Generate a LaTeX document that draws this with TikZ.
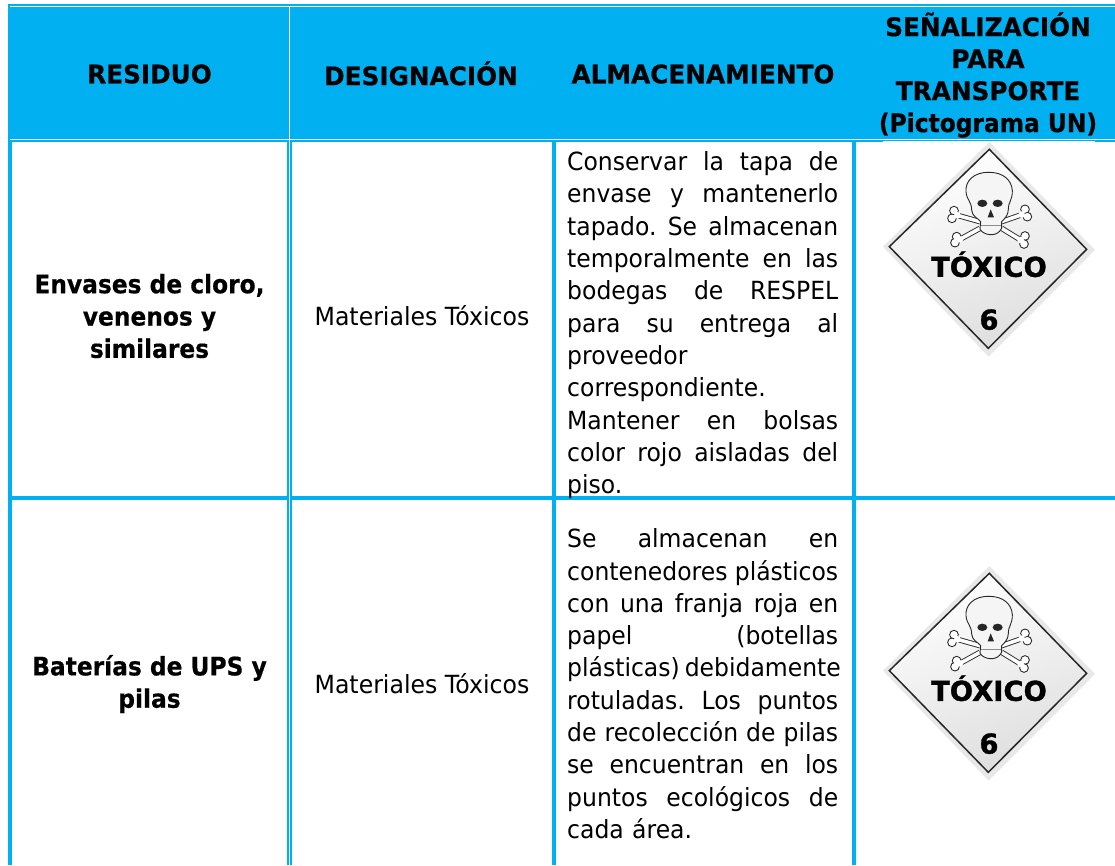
\documentclass[tikz,border=0pt]{standalone}
\usepackage{fontspec}
\setmainfont{DejaVu Sans}
\newfontfamily\bodyf[FakeStretch=0.94]{DejaVu Sans}
\newfontfamily\matf[FakeStretch=0.945]{DejaVu Sans}
\newfontfamily\headf[FakeStretch=0.97,FakeBold=0.5]{DejaVu Sans Bold}
\newfontfamily\labelf[FakeStretch=0.915,FakeBold=0.5]{DejaVu Sans Bold}
\newfontfamily\signf[FakeBold=1.2]{DejaVu Sans Bold}
\definecolor{tblue}{HTML}{00B0F0}
\newcommand\jl[1]{\leavevmode\hbox to 271pt{\spaceskip=.2em plus 1fil\xspaceskip=\spaceskip #1}}
\newcommand\toxico[2]{%
\begin{scope}[shift={(820,#2)},x=0.3333pt,y=-0.3333pt]
\fill[white] (189,62) rectangle (825,70);
\fill[black!9] (508,66) -- (189,380) -- (506,710) -- (825,390) -- cycle;
\shade[top color=white,bottom color=black!13,shading angle=20] (508,88) -- (208,380) -- (505,685) -- (800,388) -- cycle;
\draw[black!85,line width=1.5pt,line join=miter] (508,88) -- (208,380) -- (505,685) -- (800,388) -- cycle;
\foreach \ax/\ay/\bx/\by/\cx/\cy/\dx/\dy in {
 402/272/396/295/480/305/412/286,
 615/268/622/290/545/305/605/284,
 410/350/405/368/480/325/420/358,
 615/348/612/372/545/325/602/360}{
  \draw[black!85,fill=white,line width=0.9pt] (\ax,\ay) circle[radius=13];
  \draw[black!85,fill=white,line width=0.9pt] (\bx,\by) circle[radius=13];
  \draw[black!85,line width=0.9pt,double=white,double distance=3.6pt] (\dx,\dy) -- (\cx,\cy);
  \fill[white] (\ax,\ay) circle[radius=10];
  \fill[white] (\bx,\by) circle[radius=10];
  \fill[white] (\dx,\dy) circle[radius=10];
}
\draw[black!85,fill=white!96!black,line width=0.9pt,line join=round]
 (510,157) .. controls (460,155) and (435,185) .. (438,215)
 .. controls (440,240) and (455,245) .. (455,270)
 .. controls (456,290) and (475,295) .. (482,305)
 -- (480,328) .. controls (490,345) and (530,355) .. (545,325)
 -- (545,305) .. controls (555,295) and (565,285) .. (565,268)
 .. controls (565,245) and (578,240) .. (577,212)
 .. controls (575,180) and (550,158) .. (510,157) -- cycle;
\fill[black!85] (487,250) ellipse[x radius=15,y radius=11];
\fill[black!85] (533,250) ellipse[x radius=15,y radius=11];
\fill[black!85] (512,268) -- (522,292) -- (503,292) -- cycle;
\draw[black!45,line width=0.9pt] (482,316) -- (542,316);
\node[inner sep=0,font=\signf\fontsize{27.4}{30}\selectfont] (txt#1) at (507,433) {TÓXICO};
\node[inner sep=0,font=\signf\fontsize{27.4}{30}\selectfont] (six#1) at (507,599) {6};
\end{scope}}
\tikzset{
 head/.style={inner sep=0,align=center,font=\headf\fontsize{25.5}{32}\selectfont},
 bold/.style={inner sep=0,align=center,font=\labelf\fontsize{25.5}{32.3}\selectfont},
 body/.style={inner sep=0,align=center,font=\matf\fontsize{25}{32.3}\selectfont},
 just/.style={inner sep=0,anchor=north west,text width=271pt,align=left,font=\bodyf\fontsize{25}{32.3}\selectfont},
}
\begin{document}
\begin{tikzpicture}[x=1pt,y=-1pt]
\useasboundingbox (0,0) rectangle (1115,865);
\fill[white] (0,0) rectangle (1115,865);
% header band
\fill[tblue] (8,4) rectangle (1115,142);
\fill[white] (10,6) rectangle (1115,7);
\fill[white] (10,139) rectangle (1115,140);
\fill[white] (289,7) rectangle (290,139);
% grid
\fill[tblue] (8,140) rectangle (12,865);
\fill[tblue] (287,142) rectangle (289,865);
\fill[tblue] (290,142) rectangle (292,865);
\fill[tblue] (552,142) rectangle (556,865);
\fill[tblue] (852,142) rectangle (856,865);
\fill[tblue] (8,496) rectangle (289,500);
\fill[tblue] (290,496) rectangle (1115,500);
\fill[white] (289,140) rectangle (290,865);
% header text
\node[head] (h1) at (149.5,74) {RESIDUO};
\node[head] (h2) at (421,73.5) {DESIGNACIÓN};
\node[head] (h3) at (703,74) {ALMACENAMIENTO};
\node[head] (h4) at (988,75) {SEÑALIZACIÓN\\PARA\\TRANSPORTE\\{\labelf\fontsize{25.5}{32}\selectfont (Pictograma UN)}};
% row 1
\node[bold] (r1a) at (149.5,316) {Envases de cloro,\\venenos y\\similares};
\node[body] (r1b) at (422,316) {Materiales Tóxicos};
\node[just] (r1c) at (567,151.5) {\jl{Conservar la tapa de}\\\jl{envase y mantenerlo}\\\jl{tapado. Se almacenan}\\\jl{temporalmente en las}\\\jl{bodegas de RESPEL}\\\jl{para su entrega al}\\proveedor\\correspondiente.\\\jl{Mantener en bolsas}\\\jl{color rojo aisladas del}\\piso.};
\toxico{A}{120}
% row 2
\node[bold] (r2a) at (149.5,684) {Baterías de UPS y\\pilas};
\node[body] (r2b) at (422,684) {Materiales Tóxicos};
\node[just] (r2c) at (567,528.5) {\jl{Se almacenan en}\\\jl{contenedores plásticos}\\\jl{con una franja roja en}\\\jl{papel (botellas}\\\jl{plásticas) debidamente}\\\jl{rotuladas. Los puntos}\\\jl{de recolección de pilas}\\\jl{se encuentran en los}\\\jl{puntos ecológicos de}\\cada área.};
\toxico{B}{544}
\end{tikzpicture}
\end{document}
